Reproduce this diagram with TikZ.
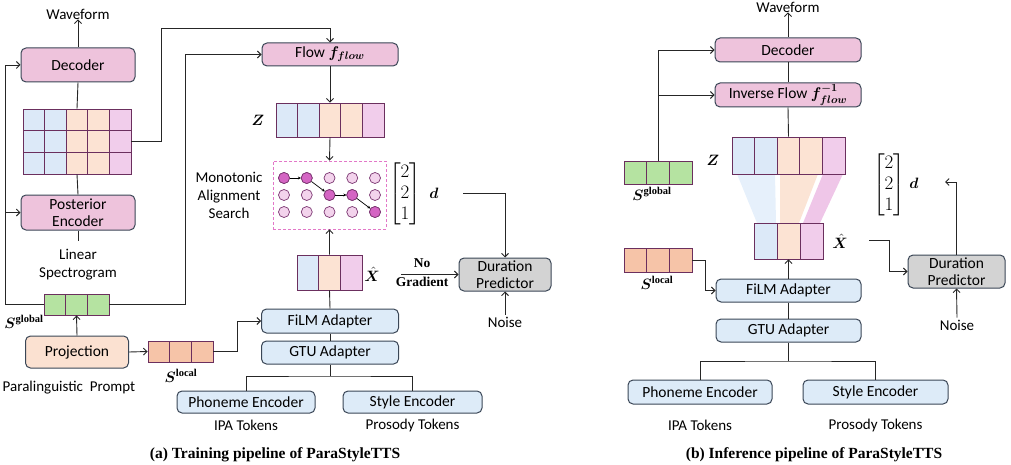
\RequirePackage{fix-cm}
\documentclass[tikz,border=0pt]{standalone}
\usepackage{amsmath}
\usepackage{bm}
\usepackage{fontspec}
\setmainfont{Liberation Serif}
\newfontfamily\sfb{Carlito}
\usetikzlibrary{arrows.meta}
\definecolor{bordc}{HTML}{3A4656}
\definecolor{pinkf}{HTML}{EEC3DC}
\definecolor{bluef}{HTML}{DDEBF8}
\definecolor{peachf}{HTML}{FBE1D1}
\definecolor{grayf}{HTML}{D3D3D3}
\definecolor{cellb}{HTML}{6B2F5E}
\definecolor{cblue}{HTML}{DCE9F8}
\definecolor{cpeach}{HTML}{FCE3D3}
\definecolor{cpink}{HTML}{F1CDEB}
\definecolor{cgreen}{HTML}{B5E3A1}
\definecolor{clocal}{HTML}{F6C4A8}
\definecolor{dashc}{HTML}{E377C8}
\definecolor{dotl}{HTML}{F3D3EC}
\definecolor{dotd}{HTML}{D465C3}
\definecolor{dotb}{HTML}{7A3570}
\definecolor{trblue}{HTML}{E6F0FB}
\definecolor{trpeach}{HTML}{FBE4D5}
\definecolor{trpink}{HTML}{EFC6E8}
\tikzset{
  blk/.style={draw=bordc, line width=1pt, rounded corners=5pt, inner sep=0pt, align=center, font=\sfb\fontsize{15.5}{16.5}\selectfont},
  pblk/.style={blk, fill=pinkf},
  bblk/.style={blk, fill=bluef},
  cell/.style={draw=cellb, line width=0.9pt, inner sep=0pt},
  arr/.style={draw=black!85, line width=0.9pt, -{Straight Barb[length=3.5pt,width=7pt]}},
  ln/.style={draw=black!85, line width=0.9pt},
  lbl/.style={font=\sfb\fontsize{15}{18}\selectfont, inner sep=0pt, align=center},
  mth/.style={font=\fontsize{15}{18}\selectfont, inner sep=0pt},
  vecm/.style={font=\fontsize{19}{21}\selectfont, inner sep=0pt},
  capt/.style={font=\bfseries\fontsize{15.5}{18}\selectfont, inner sep=0pt},
  dot/.style={circle, draw=dotb, line width=0.7pt, minimum size=11pt, inner sep=0pt, fill=dotl},
  hdot/.style={dot, fill=dotd},
}
\begin{document}
\begin{tikzpicture}[x=1pt,y=-1pt]
\useasboundingbox (0,0) rectangle (1011,465);
% ================= (a) =================
\node[lbl] (wfA) at (78,14) {Waveform};
\node[pblk, minimum width=114pt, minimum height=34pt] (decA) at (78,65) {Decoder};
\foreach \r in {1,2,3}{
  \foreach \c/\col in {1/cblue,2/cblue,3/cpeach,4/cpeach,5/cpink}{
    \node[cell, fill=\col, minimum width=21.6pt, minimum height=21.67pt] (g-\r-\c) at ({23+(\c-0.5)*21.6},{109+(\r-0.5)*21.67}) {};
  }
}
\node[pblk, minimum width=114pt, minimum height=35pt] (postA) at (78,212.5) {Posterior\\Encoder};
\node[lbl] (linA) at (78,265) {Linear\\Spectrogram};
\coordinate (linAt) at (78,241);
\foreach \i in {1,2,3}
  \node[cell, fill=cgreen, minimum width=21.67pt, minimum height=21pt] (sgA-\i) at ({44+(\i-0.5)*21.67},304.5) {};
\node[mth] (sgAl) at (24,322) {$\bm{S}^{\mathbf{global}}$};
\node[blk, fill=peachf, minimum width=103pt, minimum height=32pt] (projA) at (77,352) {Projection};
\foreach \i in {1,2,3}
  \node[cell, fill=clocal, minimum width=21.67pt, minimum height=21pt] (slA-\i) at ({148+(\i-0.5)*21.67},351.5) {};
\node[mth] (slAl) at (181,376) {$\bm{S}^{\mathbf{local}}$};
\node[lbl] (plA) at (69,388) {Paralinguistic\ \ Prompt};

\node[pblk, minimum width=136pt, minimum height=23pt] (flowA) at (330,54.5) {Flow $\bm{f_{flow}}$};
\foreach \c/\col in {1/cblue,2/cblue,3/cpeach,4/cpeach,5/cpink}
  \node[cell, fill=\col, minimum width=21.6pt, minimum height=34pt] (zA-\c) at ({276+(\c-0.5)*21.6},120) {};
\node[mth] (zAl) at (258,120) {$\bm{Z}$};
\node[draw=dashc, dash pattern=on 3pt off 2pt, line width=0.9pt, minimum width=113pt, minimum height=68pt, inner sep=0pt] (masA) at (329.5,195) {};
\foreach \r in {1,2,3}{
  \foreach \c in {1,...,5}{
    \node[dot] (m-\r-\c) at ({284+(\c-1)*22.75},{178+(\r-1)*17}) {};
  }
}
\foreach \r/\c in {1/1,1/2,2/3,2/4,3/5}
  \node[hdot] at (m-\r-\c) {};
\foreach \a/\b in {1-1/1-2,1-2/2-3,2-3/2-4,2-4/3-5}
  \draw[draw=black, line width=0.7pt, -{Stealth[length=3pt,width=3pt]}] (m-\a) -- (m-\b);
\node[lbl] (monoA) at (229,195) {Monotonic\\Alignment\\Search};
\node[vecm] (vecA) at (405,194) {$\left[\begin{matrix}2\\2\\1\end{matrix}\right]$};
\node[mth] (dA) at (434,193) {$\bm{d}$};
\coordinate (dAo) at (463,193);
\node[blk, fill=grayf, minimum width=92pt, minimum height=33pt] (dpA) at (505,274.5) {Duration\\Predictor};
\node[font=\bfseries\fontsize{13.5}{15}\selectfont, align=center, inner sep=0pt] (ngA) at (422,273) {No\\[4pt]Gradient};
\coordinate (ngAo) at (401,274.5);
\node[lbl, inner sep=2pt] (nzA) at (505,322) {Noise};
\foreach \c/\col in {1/cblue,2/cpeach,3/cpink}
  \node[cell, fill=\col, minimum width=21.67pt, minimum height=35pt] (xA-\c) at ({297+(\c-0.5)*21.67},272.5) {};
\node[mth] (xAl) at (372,274) {$\hat{\bm{X}}$};
\node[bblk, minimum width=137pt, minimum height=24pt] (filmA) at (330,321) {FiLM Adapter};
\node[bblk, minimum width=137pt, minimum height=23pt] (gtuA) at (330,352.5) {GTU Adapter};
\coordinate (jA) at (330,376);
\node[bblk, minimum width=138pt, minimum height=22pt] (phA) at (246,402) {Phoneme Encoder};
\node[bblk, minimum width=139pt, minimum height=22pt] (stA) at (412.5,402) {Style Encoder};
\node[lbl] (ipaA) at (246,425) {IPA Tokens};
\node[lbl] (proA) at (412.5,425) {Prosody Tokens};
\node[capt] (capA) at (275,455) {(a) Training pipeline of ParaStyleTTS};

% connectors (a)
\coordinate (fa1) at (161,28);
\coordinate (fbx) at (185,54.5);
\coordinate (lx) at (5,304.5);
\coordinate (slx) at (237,351.5);
\draw[arr] (decA.north) -- (wfA.south);
\draw[ln] (decA.south) -- (g-1-3.north);
\draw[ln] (g-3-3.south) -- (postA.north);
\draw[ln] (postA.south) -- (linAt);
\draw[arr] (g-2-5.east) -| (fa1) -| (flowA.north);
\draw[arr] (sgA-3.east) -| (fbx) -- (flowA.west);
\draw[arr] (sgA-1.west) -- (lx) |- (decA.west);
\draw[arr] (lx |- postA.west) -- (postA.west);
\draw[arr] (projA.north) -- (sgA-2.south);
\draw[arr] (projA.east) -- (slA-1.west);
\draw[arr] (slA-3.east) -- (slx) |- (filmA.west);
\draw[arr] (flowA.south) -- (zA-3.north);
\draw[arr] (zA-3.south) -- (masA.north);
\draw[arr] (xA-2.north) -- (masA.south);
\draw[ln] (filmA.north) -- (xA-2.south);
\draw[ln] (filmA.south) -- (gtuA.north);
\draw[ln] (gtuA.south) -- (jA);
\draw[ln] (phA.north) |- (jA) -| (stA.north);
\draw[arr] (dAo) -| (dpA.north);
\draw[arr] (ngAo) -- (dpA.west);
\draw[arr] (nzA.north) -- (dpA.south);

% ================= (b) =================
\fill[trblue] (737,174) -- (775,174) -- (776,223) -- (757,223) -- cycle;
\fill[trpeach] (780,174) -- (818,174) -- (799,223) -- (780,223) -- cycle;
\fill[trpink] (823,174) -- (843,174) -- (820,223) -- (803,223) -- cycle;
\node[lbl] (wfB) at (788,7) {Waveform};
\node[pblk, minimum width=146pt, minimum height=24pt] (decB) at (788,50) {Decoder};
\node[pblk, minimum width=146pt, minimum height=24pt] (invB) at (788,95) {Inverse Flow $\bm{f^{-1}_{flow}}$};
\foreach \c/\col in {1/cblue,2/cblue,3/cpeach,4/cpeach,5/cpink}
  \node[cell, fill=\col, minimum width=22.6pt, minimum height=37pt] (zB-\c) at ({732+(\c-0.5)*22.6},155.5) {};
\node[mth] (zBl) at (713,160) {$\bm{Z}$};
\foreach \i in {1,2,3}
  \node[cell, fill=cgreen, minimum width=22.67pt, minimum height=23pt] (sgB-\i) at ({624+(\i-0.5)*22.67},172.5) {};
\node[mth] (sgBl) at (652,194) {$\bm{S}^{\mathbf{global}}$};
\foreach \c/\col in {1/cblue,2/cpeach,3/cpink}
  \node[cell, fill=\col, minimum width=23pt, minimum height=36pt] (xB-\c) at ({754+(\c-0.5)*23},241) {};
\node[mth] (xBl) at (840,241) {$\hat{\bm{X}}$};
\coordinate (xBo) at (869,240);
\coordinate (xBc) at (889,240);
\node[blk, fill=grayf, minimum width=97pt, minimum height=33pt] (dpB) at (956.5,271.5) {Duration\\Predictor};
\coordinate (dBo) at (945,182);
\node[vecm] (vecB) at (889,185) {$\left[\begin{matrix}2\\2\\1\end{matrix}\right]$};
\node[mth] (dBl) at (914,183) {$\bm{d}$};
\node[lbl, inner sep=2pt] (nzB) at (957,325) {Noise};
\foreach \i in {1,2,3}
  \node[cell, fill=clocal, minimum width=22.67pt, minimum height=24pt] (slB-\i) at ({624+(\i-0.5)*22.67},260) {};
\node[mth] (slBl) at (657,283) {$\bm{S}^{\mathbf{local}}$};
\coordinate (slBc) at (705,260);
\node[bblk, minimum width=145pt, minimum height=23pt] (filmB) at (788.5,290.5) {FiLM Adapter};
\node[bblk, minimum width=145pt, minimum height=23pt] (gtuB) at (788.5,330.5) {GTU Adapter};
\coordinate (jB) at (788.5,361);
\node[bblk, minimum width=144pt, minimum height=24pt] (phB) at (700,392) {Phoneme Encoder};
\node[bblk, minimum width=145pt, minimum height=24pt] (stB) at (875.5,392) {Style Encoder};
\node[lbl] (ipaB) at (700,425) {IPA Tokens};
\node[lbl] (proB) at (875.5,425) {Prosody Tokens};
\node[capt] (capB) at (814,455) {(b) Inference pipeline of ParaStyleTTS};

% connectors (b)
\draw[arr] (decB.north) -- (wfB.south);
\draw[ln] (decB.south) -- (invB.north);
\draw[ln] (invB.south) -- (zB-3.north);
\draw[arr] (sgB-2.north) |- (decB.west);
\draw[arr] (sgB-2.north |- invB.west) -- (invB.west);
\draw[arr] (xBo) -- (xBc) |- (dpB.west);
\draw[arr] (dpB.north) |- (dBo);
\draw[arr] (nzB.north) -- (dpB.south);
\draw[arr] (slB-3.east) -- (slBc) |- (filmB.west);
\draw[arr] (filmB.north) -- (xB-2.south);
\draw[ln] (filmB.south) -- (gtuB.north);
\draw[ln] (gtuB.south) -- (jB);
\draw[ln] (phB.north) |- (jB) -| (stB.north);
\end{tikzpicture}
\end{document}
